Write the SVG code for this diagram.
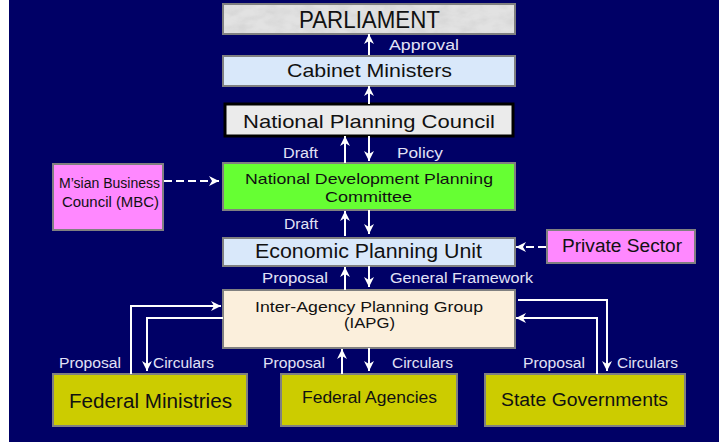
<svg xmlns="http://www.w3.org/2000/svg" width="719" height="442" viewBox="0 0 719 442">
  <style>
    .box { stroke: #808080; stroke-width: 2; }
    .t { font-family: "Liberation Sans", Arial, sans-serif; fill: #111; }
    .lbl { font-family: "Liberation Sans", Arial, sans-serif; fill: #e2e2f6; font-size: 14px; }
    .c { fill: none; stroke: #ffffff; stroke-width: 2; }
    .dash { stroke-dasharray: 8 4; }
  </style>
  <defs>
    <marker id="ah" viewBox="0 0 10 10" refX="10" refY="5" markerWidth="10" markerHeight="10" markerUnits="userSpaceOnUse" orient="auto">
      <path d="M0,0 L10,5 L0,10 L3,5 z" fill="#ffffff"/>
    </marker>
    <filter id="tex" x="0" y="0" width="1" height="1">
      <feTurbulence type="fractalNoise" baseFrequency="0.06 0.12" numOctaves="3" seed="4" result="n"/>
      <feColorMatrix type="matrix" values="0 0 0 0 0.5  0 0 0 0 0.5  0 0 0 0 0.5  0 0 0 -1.6 1.05"/>
    </filter>
  </defs>

  <rect x="0" y="0" width="719" height="442" fill="#ffffff"/>
  <rect x="9" y="0" width="710" height="442" fill="#000066"/>

  <g id="parliament">
    <rect class="box" x="223" y="4" width="292" height="30" fill="#e2e2e2"/>
    <rect x="224" y="5" width="290" height="28" filter="url(#tex)" opacity="0.35"/>
    <text class="t" x="299" y="28" font-size="24" textLength="141" lengthAdjust="spacingAndGlyphs">PARLIAMENT</text>
  </g>

  <g id="cabinet">
    <rect class="box" x="223" y="56" width="292" height="30" fill="#d9e8fa"/>
    <text class="t" x="287" y="77" font-size="19" textLength="165" lengthAdjust="spacingAndGlyphs">Cabinet Ministers</text>
  </g>

  <g id="npc">
    <rect x="225" y="104" width="288" height="32" fill="#ebebeb" stroke="#000000" stroke-width="3"/>
    <text class="t" x="243" y="128" font-size="19" textLength="252" lengthAdjust="spacingAndGlyphs">National Planning Council</text>
  </g>

  <g id="ndpc">
    <rect class="box" x="223" y="163" width="292" height="47" fill="#66ff33"/>
    <text class="t" x="245" y="184" font-size="15" textLength="248" lengthAdjust="spacingAndGlyphs">National Development Planning</text>
    <text class="t" x="325" y="202" font-size="15" textLength="87" lengthAdjust="spacingAndGlyphs">Committee</text>
  </g>

  <g id="mbc">
    <rect class="box" x="53" y="164" width="110" height="66" fill="#ff88ff"/>
    <text class="t" x="59" y="188" font-size="14" textLength="101" lengthAdjust="spacingAndGlyphs">M’sian Business</text>
    <text class="t" x="62" y="207" font-size="14" textLength="97" lengthAdjust="spacingAndGlyphs">Council (MBC)</text>
  </g>

  <g id="epu">
    <rect class="box" x="223" y="238" width="292" height="28" fill="#d9e8fa"/>
    <text class="t" x="255" y="258" font-size="20" textLength="227" lengthAdjust="spacingAndGlyphs">Economic Planning Unit</text>
  </g>

  <g id="private">
    <rect class="box" x="547" y="230" width="148" height="33" fill="#ff88ff"/>
    <text class="t" x="562" y="252" font-size="18" textLength="120" lengthAdjust="spacingAndGlyphs">Private Sector</text>
  </g>

  <g id="iapg">
    <rect class="box" x="223" y="290" width="292" height="58" fill="#fbefdc"/>
    <text class="t" x="255" y="312" font-size="15" textLength="228" lengthAdjust="spacingAndGlyphs">Inter-Agency Planning Group</text>
    <text class="t" x="344" y="328" font-size="15" textLength="51" lengthAdjust="spacingAndGlyphs">(IAPG)</text>
  </g>

  <g id="ministries">
    <rect class="box" x="53" y="374" width="194" height="52" fill="#cccc00"/>
    <text class="t" x="69" y="408" font-size="20" textLength="163" lengthAdjust="spacingAndGlyphs">Federal Ministries</text>
  </g>

  <g id="agencies">
    <rect class="box" x="281" y="374" width="176" height="52" fill="#cccc00"/>
    <text class="t" x="302" y="403" font-size="16" textLength="135" lengthAdjust="spacingAndGlyphs">Federal Agencies</text>
  </g>

  <g id="states">
    <rect class="box" x="485" y="374" width="200" height="52" fill="#cccc00"/>
    <text class="t" x="501" y="406" font-size="18" textLength="167" lengthAdjust="spacingAndGlyphs">State Governments</text>
  </g>

  <g id="connectors">
    <path class="c" d="M369,55 L369,34" marker-end="url(#ah)"/>
    <path class="c" d="M369,104 L369,86" marker-end="url(#ah)"/>
    <path class="c" d="M345,163 L345,136" marker-end="url(#ah)"/>
    <path class="c" d="M369,136 L369,161" marker-end="url(#ah)"/>
    <path class="c" d="M345,236 L345,211" marker-end="url(#ah)"/>
    <path class="c" d="M369,210 L369,234" marker-end="url(#ah)"/>
    <path class="c" d="M345,290 L345,267" marker-end="url(#ah)"/>
    <path class="c" d="M369,266 L369,287" marker-end="url(#ah)"/>
    <path class="c" d="M342,374 L342,349" marker-end="url(#ah)"/>
    <path class="c" d="M369,348 L369,371" marker-end="url(#ah)"/>
    <path class="c" d="M131,374 L131,306 L221,306" marker-end="url(#ah)"/>
    <path class="c" d="M223,318 L147,318 L147,371" marker-end="url(#ah)"/>
    <path class="c" d="M518,300 L607,300 L607,371" marker-end="url(#ah)"/>
    <path class="c" d="M597,374 L597,318 L516,318" marker-end="url(#ah)"/>
    <path class="c dash" d="M164,181 L219,181" marker-end="url(#ah)"/>
    <path class="c dash" d="M546,247 L516,247" marker-end="url(#ah)"/>
  </g>

  <g id="labels">
    <text class="lbl" x="389" y="50" textLength="70" lengthAdjust="spacingAndGlyphs">Approval</text>
    <text class="lbl" x="283" y="158" textLength="35" lengthAdjust="spacingAndGlyphs">Draft</text>
    <text class="lbl" x="397" y="158" textLength="46" lengthAdjust="spacingAndGlyphs">Policy</text>
    <text class="lbl" x="284" y="229" textLength="34" lengthAdjust="spacingAndGlyphs">Draft</text>
    <text class="lbl" x="262" y="283" textLength="66" lengthAdjust="spacingAndGlyphs">Proposal</text>
    <text class="lbl" x="390" y="283" textLength="143" lengthAdjust="spacingAndGlyphs">General Framework</text>
    <text class="lbl" x="59" y="368" textLength="62" lengthAdjust="spacingAndGlyphs">Proposal</text>
    <text class="lbl" x="153" y="368" textLength="61" lengthAdjust="spacingAndGlyphs">Circulars</text>
    <text class="lbl" x="263" y="368" textLength="62" lengthAdjust="spacingAndGlyphs">Proposal</text>
    <text class="lbl" x="392" y="368" textLength="61" lengthAdjust="spacingAndGlyphs">Circulars</text>
    <text class="lbl" x="523" y="368" textLength="62" lengthAdjust="spacingAndGlyphs">Proposal</text>
    <text class="lbl" x="617" y="368" textLength="61" lengthAdjust="spacingAndGlyphs">Circulars</text>
  </g>
</svg>
